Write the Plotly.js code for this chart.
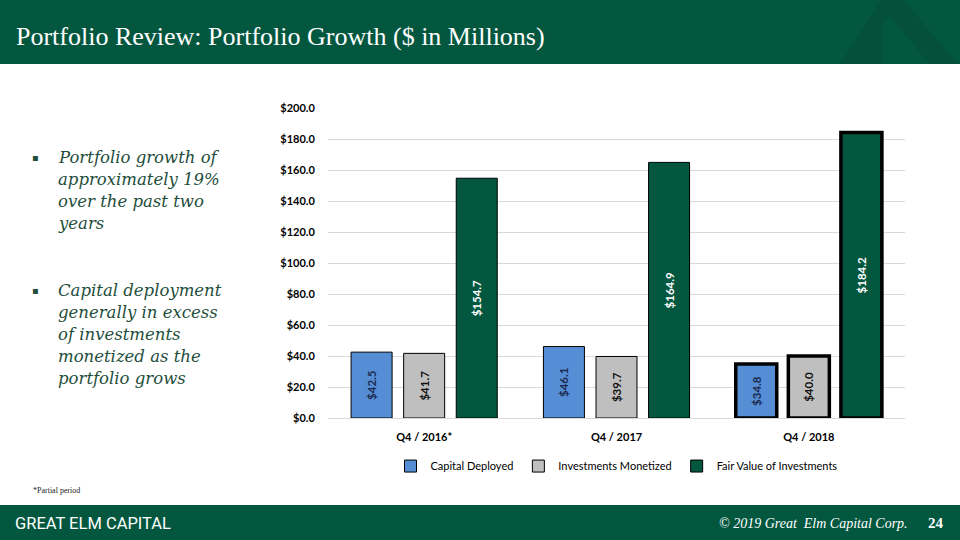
<!DOCTYPE html>
<html>
<head>
<meta charset="utf-8">
<script src="https://cdn.plot.ly/plotly-3.0.1.min.js"></script>
<style>
html,body{margin:0;padding:0;background:#fff;}
#chart{width:960px;height:540px;}
</style>
</head>
<body>
<div id="chart"></div>
<script>
const categories = ["Q4 / 2016*", "Q4 / 2017", "Q4 / 2018"];
const capitalDeployed = [42.5, 46.1, 34.8];
const investmentsMonetized = [41.7, 39.7, 40.0];
const fairValue = [154.7, 164.9, 184.2];
const seriesNames = ["Capital Deployed", "Investments Monetized", "Fair Value of Investments"];
const yTicks = [0, 20, 40, 60, 80, 100, 120, 140, 160, 180, 200];
const yTickText = yTicks.map(v => '$' + v.toFixed(1));

const green = '#03573F';
const outlineW = [1, 1, 3.5];
const sans = 'Lato, Liberation Sans, sans-serif';

function barTrace(name, vals, color, txtColor) {
  return {
    type: 'bar', name: name, x: categories, y: vals,
    marker: {color: color, line: {color: '#000', width: outlineW}},
    texttemplate: '$%{y:.1f}', textposition: 'inside', textangle: -90,
    insidetextanchor: 'middle', constraintext: 'none',
    textfont: {family: sans, size: 11.5, color: txtColor, weight: 700},
    hoverinfo: 'skip'
  };
}

const data = [
  barTrace(seriesNames[0], capitalDeployed, '#558ED5', '#1B2A4E'),
  barTrace(seriesNames[1], investmentsMonetized, '#BFBFBF', '#111111'),
  barTrace(seriesNames[2], fairValue, green, '#FFFFFF')
];

const bullet1 = ['Portfolio growth of', 'approximately 19%', 'over the past two', 'years'];
const bullet2 = ['Capital deployment', 'generally in excess', 'of investments', 'monetized as the', 'portfolio grows'];

// plot area in pixels
const L = 328, R = 905, T = 108, B = 418;
function px(x) { return (x - L) / (R - L); }
function py(y) { return (B - y) / (B - T); }

const layout = {
  width: 960, height: 540,
  margin: {l: L, r: 960 - R, t: T, b: 540 - B},
  paper_bgcolor: '#fff', plot_bgcolor: '#fff',
  barmode: 'group', bargap: 0.18, bargroupgap: 0.22,
  showlegend: true,
  legend: {orientation: 'h', x: 0.5, xanchor: 'center', y: -0.155, yanchor: 'middle',
    font: {family: sans, size: 11, color: '#000'},
    itemwidth: 30, traceorder: 'normal'},
  xaxis: {type: 'category', showgrid: false, zeroline: false, showline: false,
    ticks: 'outside', ticklen: 9, tickcolor: 'rgba(0,0,0,0)',
    tickfont: {family: sans, size: 11, color: '#000', weight: 'bold'}},
  yaxis: {range: [0, 200], tickvals: yTicks, ticktext: yTickText,
    showgrid: true, gridcolor: '#D9D9D9', gridwidth: 1, zeroline: true, zerolinecolor: '#D9D9D9',
    showline: false, ticks: 'outside', ticklen: 10, tickcolor: 'rgba(0,0,0,0)',
    tickfont: {family: sans, size: 11, color: '#000', weight: 'bold'}},
  shapes: [
    {type: 'rect', xref: 'paper', yref: 'paper', x0: px(0), x1: px(960), y0: py(64), y1: py(0), layer: 'below', line: {width: 0}, fillcolor: green},
    {type: 'path', xref: 'paper', yref: 'paper', layer: 'below', line: {width: 0}, fillcolor: '#045039',
      path: `M ${px(881)} ${py(0)} L ${px(903)} ${py(0)} L ${px(958)} ${py(64)} L ${px(930)} ${py(64)} L ${px(890)} ${py(16)} L ${px(882)} ${py(26)} L ${px(882)} ${py(64)} L ${px(840)} ${py(64)} Z`},
    {type: 'rect', xref: 'paper', yref: 'paper', x0: px(0), x1: px(960), y0: py(540), y1: py(505), layer: 'below', line: {width: 0}, fillcolor: green}
  ],
  annotations: []
};

const serif = 'Liberation Serif, DejaVu Serif, serif';
const bulletColor = '#1F4E3D';
const bodyFont = {family: 'DejaVu Serif, serif', size: 16.5, color: bulletColor};
const ann = layout.annotations;
ann.push({xref: 'paper', yref: 'paper', x: px(14), y: py(36), xanchor: 'left', yanchor: 'middle', showarrow: false,
  text: 'Portfolio Review: Portfolio Growth ($ in Millions)', font: {family: serif, size: 26, color: '#fff'}});
[[bullet1, 157], [bullet2, 290]].forEach(([lines, y0]) => {
  ann.push({xref: 'paper', yref: 'paper', x: px(30), y: py(y0), xanchor: 'left', yanchor: 'middle', showarrow: false,
    text: '▪', font: {family: 'DejaVu Sans', size: 10, color: bulletColor}});
  lines.forEach((t, i) => {
    ann.push({xref: 'paper', yref: 'paper', x: px(56), y: py(y0 + 22 * i), xanchor: 'left', yanchor: 'middle', showarrow: false,
      text: '<i>' + t + '</i>', font: bodyFont});
  });
});
ann.push({xref: 'paper', yref: 'paper', x: px(31), y: py(491), xanchor: 'left', yanchor: 'middle', showarrow: false,
  text: '*Partial period', font: {family: serif, size: 8, color: '#222'}});
ann.push({xref: 'paper', yref: 'paper', x: px(13), y: py(523), xanchor: 'left', yanchor: 'middle', showarrow: false,
  text: 'GREAT ELM CAPITAL', font: {family: 'Roboto, DejaVu Sans, sans-serif', size: 16.5, color: '#fff'}});
ann.push({xref: 'paper', yref: 'paper', x: px(910), y: py(523), xanchor: 'right', yanchor: 'middle', showarrow: false,
  text: '<i>© 2019 Great  Elm Capital Corp.</i>', font: {family: serif, size: 14, color: '#fff'}});
ann.push({xref: 'paper', yref: 'paper', x: px(946), y: py(523), xanchor: 'right', yanchor: 'middle', showarrow: false,
  text: '<b>24</b>', font: {family: serif, size: 15, color: '#fff'}});

Plotly.newPlot('chart', data, layout, {staticPlot: true, displayModeBar: false});
</script>
</body>
</html>
